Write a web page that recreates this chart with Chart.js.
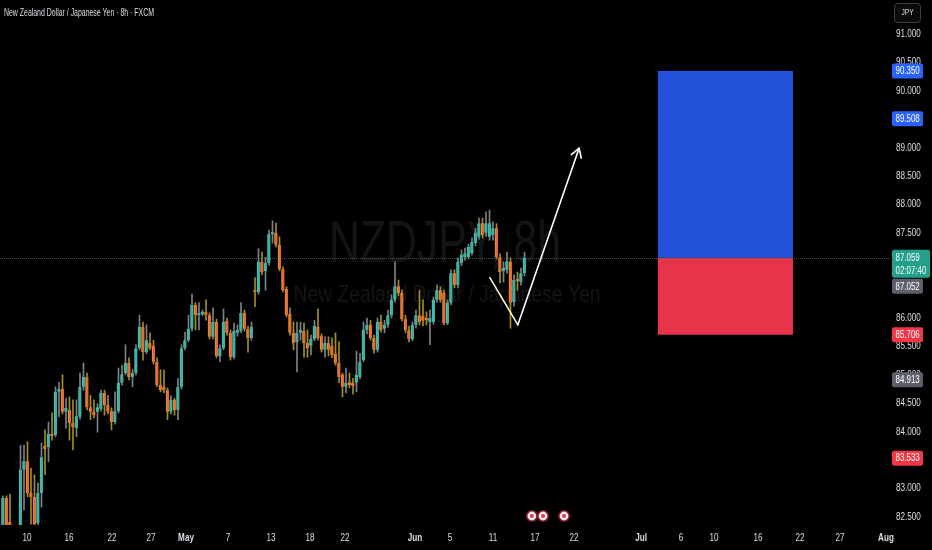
<!DOCTYPE html>
<html><head><meta charset="utf-8">
<script src="https://cdn.jsdelivr.net/npm/chart.js@4.4.1/dist/chart.umd.min.js"></script>
<style>html,body{margin:0;padding:0;background:#000;overflow:hidden}canvas{display:block}</style>
</head><body>
<canvas id="c" width="932" height="550"></canvas>
<script>
// ---------- DATA ----------
const opens = [82.27,82.83,82.41,82.30,82.05,82.18,83.33,83.48,82.92,82.85,
82.39,82.92,83.75,83.73,83.96,83.94,84.70,84.75,84.35,84.38,
84.15,84.06,84.26,84.79,84.96,84.43,84.35,84.35,84.40,84.68,
84.47,84.36,84.17,84.36,84.86,85.03,85.21,84.96,85.03,85.47,
85.84,85.40,85.56,85.51,85.23,84.82,84.79,84.73,84.35,84.56,
84.38,84.79,85.47,85.61,85.81,86.23,86.05,86.07,86.11,86.05,
85.67,85.93,85.33,85.47,85.95,85.74,85.31,85.74,85.77,86.09,
85.81,85.65,86.49,86.46,86.99,86.83,86.97,87.48,87.50,87.29,
86.86,86.51,86.07,85.74,85.58,85.74,85.77,85.56,85.51,85.63,
85.84,85.68,85.44,85.56,85.51,85.37,85.21,85.00,84.79,84.87,
84.86,84.86,84.96,85.26,85.79,85.88,85.65,85.44,85.93,85.81,
85.88,86.05,86.32,86.56,86.44,85.98,85.79,85.63,85.88,86.05,
86.04,86.00,85.93,85.93,86.32,86.49,86.44,85.91,86.27,86.79,
86.58,86.97,87.07,87.07,87.14,87.32,87.43,87.67,87.50,87.43,
87.46,87.58,87.07,86.83,86.85,86.99,86.28,86.69,86.63,86.79];
const highs = [82.87,82.87,82.90,82.32,82.30,83.76,83.76,83.82,83.36,83.24,
83.10,83.80,84.03,84.17,84.33,84.79,84.87,85.00,84.59,84.61,
84.56,84.56,85.03,85.21,85.03,84.64,84.56,84.49,84.73,84.73,
84.64,84.42,84.70,85.12,85.17,85.53,85.30,85.09,85.53,86.05,
85.93,85.88,85.74,85.61,85.30,85.09,85.09,84.77,84.63,84.59,
84.94,85.53,85.75,86.05,86.42,86.27,86.27,86.14,86.32,86.09,
86.18,85.98,85.53,86.16,86.00,85.79,85.91,85.88,86.27,86.14,
85.86,85.93,86.71,87.22,87.16,87.07,87.55,87.71,87.67,87.43,
86.90,86.55,86.18,85.93,85.93,85.93,85.91,85.79,85.70,85.96,
86.16,85.72,85.67,85.67,85.65,85.74,85.58,85.03,85.12,85.03,
84.94,85.42,85.38,85.93,86.00,85.96,85.70,86.00,86.05,85.96,
86.14,86.41,86.99,86.67,86.49,86.05,85.86,85.93,86.14,86.49,
86.32,86.11,86.14,86.37,86.58,86.55,86.49,86.32,86.85,86.85,
87.06,87.20,87.23,87.30,87.41,87.58,87.76,87.76,87.87,87.90,
87.69,87.66,87.13,86.99,87.16,87.06,86.76,86.81,86.88,87.16];
const lows = [82.18,82.27,82.27,82.00,81.95,82.09,82.62,82.85,82.37,82.34,
82.36,82.67,83.24,83.47,83.85,83.91,84.26,84.31,84.06,83.85,
83.68,83.91,84.22,84.73,84.38,84.21,84.24,83.99,84.36,84.29,
84.31,84.03,84.13,84.33,84.82,85.00,84.91,84.79,85.00,85.44,
85.26,85.37,85.44,85.19,84.79,84.70,84.68,84.21,84.31,84.29,
84.21,84.75,85.44,85.58,85.77,85.79,85.79,86.04,85.96,85.63,
85.63,85.30,85.23,85.44,85.70,85.26,85.28,85.68,85.74,85.77,
85.40,85.61,86.20,86.42,86.76,86.49,86.93,87.32,87.25,86.83,
86.46,86.02,85.70,85.44,85.05,85.61,85.31,85.31,85.35,85.60,
85.61,85.40,85.31,85.33,85.30,85.17,84.86,84.61,84.68,84.77,
84.66,84.70,84.93,85.23,85.72,85.61,85.38,85.40,85.75,85.74,
85.84,86.00,86.28,86.39,85.95,85.74,85.58,85.60,85.82,85.88,
85.86,85.88,85.53,85.89,86.28,86.28,85.88,85.88,86.23,86.53,
86.53,86.92,87.02,87.04,87.11,87.27,87.39,87.41,87.44,87.37,
87.37,87.04,86.62,86.63,86.79,85.82,86.21,86.49,86.58,86.74];
const closes = [82.83,82.36,82.34,82.05,82.20,83.33,83.48,82.92,82.85,82.37,
82.92,83.55,83.69,83.96,83.92,84.70,84.75,84.35,84.42,84.15,
84.08,84.27,84.79,84.96,84.43,84.35,84.29,84.43,84.68,84.47,
84.35,84.17,84.36,84.86,85.01,85.21,84.96,85.03,85.47,85.84,
85.40,85.61,85.47,85.23,84.82,84.73,84.73,84.35,84.56,84.38,
84.79,85.47,85.61,85.81,86.23,86.05,86.09,86.11,86.05,85.67,
85.93,85.33,85.47,85.93,85.74,85.31,85.77,85.79,86.09,85.81,
85.65,85.84,86.46,86.99,86.81,86.97,87.48,87.51,87.29,86.86,
86.49,86.05,85.74,85.56,85.74,85.79,85.56,85.47,85.63,85.86,
85.65,85.44,85.56,85.44,85.35,85.21,84.96,84.79,84.86,84.82,
84.80,85.00,85.23,85.79,85.88,85.65,85.44,85.93,85.79,85.88,
86.05,86.32,86.56,86.44,85.98,85.79,85.63,85.88,86.05,85.93,
85.95,85.96,86.00,86.32,86.49,86.32,85.91,86.27,86.79,86.58,
86.99,87.11,87.14,87.25,87.34,87.50,87.67,87.46,87.67,87.67,
87.58,87.07,86.81,86.88,87.00,86.27,86.67,86.65,86.79,87.059];

// time axis: bar-index positions of the date labels
const dateTickIndex = [6.86,18.86,31.14,42.29,52.29,64.29,76.57,87.71,97.71,117.71,127.71,140,152,163.14,182.29,193.71,203.14,215.71,227.71,239.14,252.29];
const dateTickLabels = ['10','16','22','27','May','7','13','18','22','Jun','5','11','17','22','Jul','6','10','16','22','27','Aug'];
const monthLabels = ['May','Jun','Jul','Aug'];
const priceTicks = [82.5,83,83.5,84,84.5,85,85.5,86,86.5,87,87.5,88,88.5,89,89.5,90,90.5,91];
const viewIndex = [-0.857, 253.43];
const viewPrice = [82.356, 91.599];

// last price / countdown
const lastPrice = 87.059;
const countdown = '02:07:40';
// position tool (target / entry / stop) spanning bar indices
const zoneIndex = [187.1, 225.7];
const targetPrice = 90.350, entryPrice = 87.059, stopPrice = 85.706;
// axis tags
const tagPrices = [90.350, 89.508, 87.052, 85.706, 84.913, 83.533];
const tagKinds  = ['blue','blue','gray','red','gray','red'];
// hand-drawn arrow (bar index, price)
const arrowIndex = [139.1, 147.1, 164.6];
const arrowPrice = [86.71, 85.88, 88.99];
// economic events (bar index)
const eventIndex = [151.1, 154.3, 160.3];

const titleText = 'New Zealand Dollar / Japanese Yen · 8h · FXCM';
const watermarkMain = 'NZDJPY, 8h';
const watermarkSub = 'New Zealand Dollar / Japanese Yen';
const currency = 'JPY';

// ---------- STYLE ----------
const FONT = "'Liberation Sans','Arial',sans-serif";
const SQ = 0.74; // horizontal condensing of small UI text
const TXT = '#dcdee5';
const UP = '#3bb0a3', DOWN = '#ea6a2d', UPW = '#7d8088', DOWNW = '#a18f1f';
const UPB = '#52c2b4', DOWNB = '#d8a03a';
const TAGC = {blue:'#2962ff', red:'#f23645', gray:'#5d606b'};

const isUp = opens.map((o,i)=>closes[i] >= o);
const wickData = opens.map((o,i)=>({x:i, y:[lows[i], highs[i]]}));
const bodyData = opens.map((o,i)=>({x:i, y:[Math.min(o,closes[i]), Math.max(o,closes[i])]}));

function condensedText(ctx, text, x, y, sx) {
  ctx.save(); ctx.translate(x, y); ctx.scale(sx, 1); ctx.fillText(text, 0, 0); ctx.restore();
}
function drawFit(ctx, text, font, cx, cy, width) {
  ctx.save();
  ctx.font = font;
  const w = ctx.measureText(text).width;
  ctx.translate(cx, cy); ctx.scale(width / w, 1); ctx.fillText(text, 0, 0);
  ctx.restore();
}
function tag(ctx, x0, top, w, h, color, lines) {
  ctx.fillStyle = color;
  ctx.beginPath();
  if (ctx.roundRect) ctx.roundRect(x0, top, w, h, 2); else ctx.rect(x0, top, w, h);
  ctx.fill();
  ctx.fillStyle = '#ffffff';
  ctx.font = '11px ' + FONT;
  ctx.textAlign = 'left'; ctx.textBaseline = 'middle';
  lines.forEach((t, k) => condensedText(ctx, t, x0 + 3.5, top + 7.8 + k * 13.5, 0.72));
}
// wrap a scale's own label drawing so each label is condensed horizontally
function condenseLabels(s) {
  if (s._condensed) return;
  s._condensed = true;
  const orig = s.drawLabels;
  s.drawLabels = function (area) {
    const c = this.ctx, t = c.translate;
    c.translate = function (x, y) { t.call(this, x, y); this.scale(SQ, 1); };
    try { orig.call(this, area); } finally { c.translate = t; }
  };
}

const overlay = {
  id: 'overlay',
  beforeDatasetsDraw(chart) {
    const {ctx, chartArea: a, scales: {x, y}} = chart;
    ctx.save();
    ctx.beginPath(); ctx.rect(a.left, a.top, a.right - a.left, a.bottom - a.top); ctx.clip();
    ctx.fillStyle = 'rgba(255,255,255,0.08)';
    ctx.textAlign = 'center'; ctx.textBaseline = 'middle';
    const cx = (a.left + a.right) / 2, cy = (a.top + a.bottom) / 2;
    drawFit(ctx, watermarkMain, "60px 'Liberation Sans', sans-serif", cx, cy - 17, 232);
    drawFit(ctx, watermarkSub, "24px 'Liberation Sans', sans-serif", cx + 2, cy + 33, 307);
    const zx1 = x.getPixelForValue(zoneIndex[0]), zx2 = x.getPixelForValue(zoneIndex[1]);
    const yT = y.getPixelForValue(targetPrice), yE = y.getPixelForValue(entryPrice), yS = y.getPixelForValue(stopPrice);
    ctx.fillStyle = '#2251da'; ctx.fillRect(zx1, yT, zx2 - zx1, yE - yT);
    ctx.fillStyle = '#e8344a'; ctx.fillRect(zx1, yE, zx2 - zx1, yS - yE);
    const yl = Math.round(y.getPixelForValue(lastPrice)) + 0.5;
    ctx.strokeStyle = 'rgba(70,110,104,0.75)'; ctx.lineWidth = 1; ctx.setLineDash([1, 1]);
    ctx.beginPath(); ctx.moveTo(a.left, yl); ctx.lineTo(a.right, yl); ctx.stroke();
    ctx.restore();
  },
  afterDatasetsDraw(chart) {
    const {ctx, chartArea: a, scales: {x, y}} = chart;
    ctx.save();
    const pts = arrowIndex.map((v, i) => [x.getPixelForValue(v), y.getPixelForValue(arrowPrice[i])]);
    ctx.lineWidth = 1.6; ctx.lineCap = 'round'; ctx.lineJoin = 'round';
    ctx.strokeStyle = '#fff3c8';
    ctx.beginPath(); ctx.moveTo(pts[0][0], pts[0][1]); ctx.lineTo(pts[1][0], pts[1][1]); ctx.stroke();
    ctx.strokeStyle = '#ffffff';
    ctx.beginPath(); ctx.moveTo(pts[1][0], pts[1][1]); ctx.lineTo(pts[2][0], pts[2][1]); ctx.stroke();
    const ang = Math.atan2(pts[2][1] - pts[1][1], pts[2][0] - pts[1][0]);
    const L = 10, s = 0.55;
    ctx.beginPath();
    ctx.moveTo(pts[2][0] - L * Math.cos(ang - s), pts[2][1] - L * Math.sin(ang - s));
    ctx.lineTo(pts[2][0], pts[2][1]);
    ctx.lineTo(pts[2][0] - L * Math.cos(ang + s), pts[2][1] - L * Math.sin(ang + s));
    ctx.stroke();
    eventIndex.forEach(v => {
      const ex = x.getPixelForValue(v), ey = a.bottom - 9;
      ctx.fillStyle = '#7a1a2a'; ctx.beginPath(); ctx.arc(ex, ey, 6, 0, Math.PI * 2); ctx.fill();
      ctx.fillStyle = '#f3e6e8'; ctx.beginPath(); ctx.arc(ex, ey, 4.4, 0, Math.PI * 2); ctx.fill();
      ctx.fillStyle = '#e23a4a'; ctx.beginPath(); ctx.arc(ex, ey, 2, 0, Math.PI * 2); ctx.fill();
    });
    ctx.restore();
  },
  afterDraw(chart) {
    const {ctx, chartArea: a, scales: {y}} = chart;
    ctx.save();
    ctx.fillStyle = TXT; ctx.font = '10.5px ' + FONT; ctx.textAlign = 'left'; ctx.textBaseline = 'middle';
    condensedText(ctx, titleText, 4, 13, 0.66);
    ctx.strokeStyle = '#3a3d47'; ctx.lineWidth = 1; ctx.fillStyle = '#0b0b0b';
    ctx.beginPath(); if (ctx.roundRect) ctx.roundRect(894.5, 3.5, 26, 19, 3); else ctx.rect(894.5, 3.5, 26, 19);
    ctx.fill(); ctx.stroke();
    ctx.fillStyle = TXT; ctx.font = '8.5px ' + FONT; ctx.textAlign = 'center';
    condensedText(ctx, currency, 907.5, 13, 0.78);
    const x0 = a.right + 2;
    const yl = y.getPixelForValue(lastPrice);
    const greenTop = yl - 8, greenBottom = greenTop + 28;
    tagPrices.forEach((p, i) => {
      let top = y.getPixelForValue(p) - 7.5;
      if (top < greenBottom && top + 15 > greenTop) top = greenBottom + 1;
      tag(ctx, x0, top, 31, 15, TAGC[tagKinds[i]], [p.toFixed(3)]);
    });
    tag(ctx, x0, greenTop, 38, 28, '#22a08c', [lastPrice.toFixed(3), countdown]);
    ctx.restore();
  }
};

Chart.defaults.font.family = FONT;
new Chart(document.getElementById('c'), {
  type: 'bar',
  data: {
    datasets: [
      { data: bodyData, backgroundColor: isUp.map(u => u ? UP : DOWN),
        borderColor: isUp.map(u => u ? UPB : DOWNB), borderWidth: { left: 1, right: 0, top: 0, bottom: 0 },
        borderSkipped: false, barThickness: 3, minBarLength: 1, grouped: false, order: 1 },
      { data: wickData, backgroundColor: isUp.map(u => u ? UPW : DOWNW), borderWidth: 0,
        barThickness: 1, grouped: false, order: 2 }
    ]
  },
  options: {
    responsive: false, animation: false, events: [], devicePixelRatio: 1,
    layout: { padding: 0 },
    plugins: { legend: { display: false }, tooltip: { enabled: false }, title: { display: false } },
    scales: {
      x: {
        type: 'linear', min: viewIndex[0], max: viewIndex[1], offset: false,
        grid: { display: false, drawTicks: false }, border: { display: false },
        afterBuildTicks: s => { s.ticks = dateTickIndex.map(v => ({ value: v })); },
        afterFit: s => { s.height = 25; s.paddingLeft = 0; s.paddingRight = 0; condenseLabels(s); },
        ticks: {
          autoSkip: false, maxRotation: 0, minRotation: 0, padding: 6, color: TXT,
          font: c => ({ size: 11, family: FONT, weight: (c.tick && monthLabels.includes(dateTickLabels[dateTickIndex.indexOf(c.tick.value)])) ? 'bold' : 'normal' }),
          callback: v => dateTickLabels[dateTickIndex.indexOf(v)] ?? ''
        }
      },
      y: {
        type: 'linear', position: 'right', min: viewPrice[0], max: viewPrice[1],
        grid: { display: false, drawTicks: false }, border: { display: false },
        afterBuildTicks: s => { s.ticks = priceTicks.map(v => ({ value: v })); },
        afterFit: s => { s.width = 42; s.paddingTop = 0; s.paddingBottom = 0; condenseLabels(s); },
        ticks: { autoSkip: false, padding: 6, color: TXT, font: { size: 11, family: FONT },
          callback: v => Number(v).toFixed(3) }
      }
    }
  },
  plugins: [overlay]
});
</script>
</body></html>
